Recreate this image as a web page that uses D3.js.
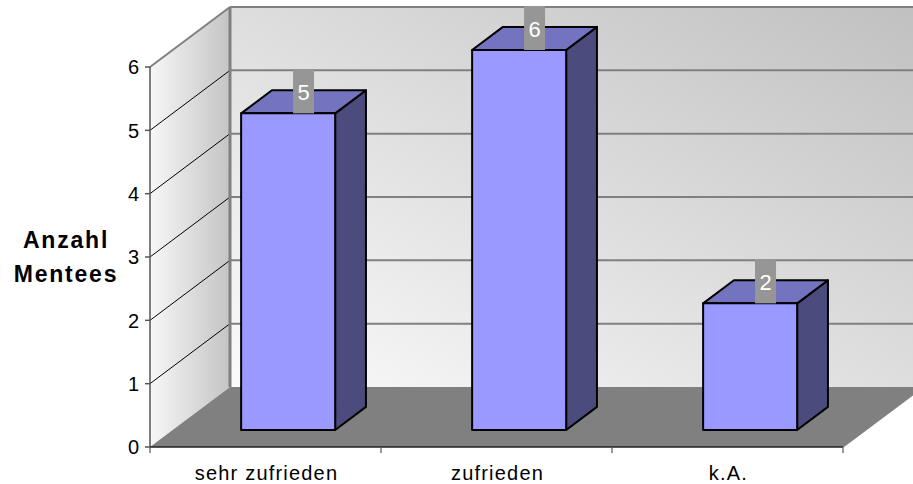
<!DOCTYPE html>
<html><head><meta charset="utf-8">
<script src="https://cdn.jsdelivr.net/npm/d3@7"></script>
<style>html,body{margin:0;padding:0;background:#fff;}svg{display:block;font-family:"Liberation Sans",Arial,sans-serif;}</style>
</head><body>
<svg id="chart" width="913" height="484"></svg>
<script>
const categories = ["sehr zufrieden", "zufrieden", "k.A."];
const values = [5, 6, 2];
const yTicks = [0, 1, 2, 3, 4, 5, 6];
const yTitle = ["Anzahl", "Mentees"];

const svg = d3.select("#chart");
const DX = 80, DY = -60;          // depth projection
const F0 = 0.283, F1 = 0.668;     // bar front/back depth fraction
const left = 150, right = 843;

const y = d3.scaleLinear().domain([0, 6]).range([447, 67]);
const x = d3.scaleBand().domain(categories).range([left, right]);
const barW = x.bandwidth() * 0.407;

const P = (px, py, f) => [px + f * DX, py + f * DY];
const pts = arr => arr.map(p => p.join(",")).join(" ");

const defs = svg.append("defs");
const g1 = defs.append("linearGradient").attr("id", "backG")
  .attr("x1", "0").attr("y1", "1").attr("x2", "1").attr("y2", "0");
g1.append("stop").attr("offset", "0").attr("stop-color", "#fbfbfb");
g1.append("stop").attr("offset", "1").attr("stop-color", "#c0c0c0");
const g2 = defs.append("linearGradient").attr("id", "leftG")
  .attr("x1", "0").attr("y1", "0").attr("x2", "1").attr("y2", "0");
g2.append("stop").attr("offset", "0").attr("stop-color", "#f7f7f7");
g2.append("stop").attr("offset", "1").attr("stop-color", "#c4c4c4");

const y0 = y(0), yTop = y(6);
// back wall
svg.append("polygon")
  .attr("points", pts([P(left, y0, 1), P(right, y0, 1), P(right, yTop, 1), P(left, yTop, 1)]))
  .attr("fill", "url(#backG)");
// left wall
svg.append("polygon")
  .attr("points", pts([[left, y0], P(left, y0, 1), P(left, yTop, 1), [left, yTop]]))
  .attr("fill", "url(#leftG)");

// back wall gridlines
svg.append("g").selectAll("line").data(yTicks.filter(d => d > 0)).join("line")
  .attr("x1", d => P(left, y(d), 1)[0]).attr("y1", d => P(left, y(d), 1)[1])
  .attr("x2", d => P(right, y(d), 1)[0]).attr("y2", d => P(right, y(d), 1)[1])
  .attr("stroke", "#808080").attr("stroke-width", 2);
// left wall gridlines
svg.append("g").selectAll("line").data(yTicks.filter(d => d > 0 && d < 6)).join("line")
  .attr("x1", left).attr("y1", d => y(d))
  .attr("x2", d => P(left, y(d), 1)[0]).attr("y2", d => P(left, y(d), 1)[1])
  .attr("stroke", "#000").attr("stroke-width", 1);
// left wall top edge and back corner
svg.append("line").attr("x1", left).attr("y1", yTop)
  .attr("x2", P(left, yTop, 1)[0]).attr("y2", P(left, yTop, 1)[1])
  .attr("stroke", "#808080").attr("stroke-width", 2);
svg.append("line").attr("x1", P(left, y0, 1)[0]).attr("y1", P(left, y0, 1)[1])
  .attr("x2", P(left, yTop, 1)[0]).attr("y2", P(left, yTop, 1)[1])
  .attr("stroke", "#808080").attr("stroke-width", 3);

// floor
svg.append("polygon")
  .attr("points", pts([[left, y0], [right, y0], P(right, y0, 1), P(left, y0, 1)]))
  .attr("fill", "#808080");
svg.append("line").attr("x1", right).attr("y1", y0)
  .attr("x2", P(right, y0, 1)[0]).attr("y2", P(right, y0, 1)[1])
  .attr("stroke", "#808080").attr("stroke-width", 1.5);

// y axis
svg.append("line").attr("x1", left).attr("y1", y0).attr("x2", left).attr("y2", yTop)
  .attr("stroke", "#555").attr("stroke-width", 1.5);
const yt = svg.append("g");
yt.selectAll("line").data(yTicks).join("line")
  .attr("x1", left - 5).attr("x2", left).attr("y1", d => y(d)).attr("y2", d => y(d))
  .attr("stroke", "#555").attr("stroke-width", 1.5);
yt.selectAll("text").data(yTicks).join("text")
  .attr("x", 139).attr("y", d => y(d)).attr("dy", "0.36em")
  .attr("text-anchor", "end").attr("font-size", 20).attr("fill", "#000")
  .text(d => d);

// x axis
svg.append("line").attr("x1", left).attr("x2", right).attr("y1", y0).attr("y2", y0)
  .attr("stroke", "#222").attr("stroke-width", 1.5);
const bounds = categories.map(c => x(c)).concat([right]);
svg.append("g").selectAll("line").data(bounds).join("line")
  .attr("x1", d => d).attr("x2", d => d).attr("y1", y0).attr("y2", y0 + 6)
  .attr("stroke", "#555").attr("stroke-width", 1.2);
svg.append("g").selectAll("text").data(categories).join("text")
  .attr("x", d => x(d) + x.bandwidth() / 2 + 1).attr("y", 480)
  .attr("text-anchor", "middle").attr("font-size", 20).attr("letter-spacing", "1.2px")
  .attr("fill", "#000").text(d => d);

// title
const tt = svg.append("text").attr("font-size", 23).attr("font-weight", "bold")
  .attr("letter-spacing", "1.8px").attr("text-anchor", "middle").attr("fill", "#000");
tt.selectAll("tspan").data(yTitle).join("tspan")
  .attr("x", 66).attr("y", (d, i) => 248 + i * 34).text(d => d);

// bars
const bars = svg.append("g").selectAll("g").data(categories.map((c, i) => ({ c, v: values[i] }))).join("g");
bars.each(function (d) {
  const g = d3.select(this);
  const xl = x(d.c) + (x.bandwidth() - barW) / 2, xr = xl + barW;
  const yb = y(0), yv = y(d.v);
  const fbl = P(xl, yb, F0), fbr = P(xr, yb, F0), ftl = P(xl, yv, F0), ftr = P(xr, yv, F0);
  const btl = P(xl, yv, F1), btr = P(xr, yv, F1), bbr = P(xr, yb, F1);
  g.append("polygon").attr("points", pts([ftr, btr, bbr, fbr]))
    .attr("fill", "#4b4b7e").attr("stroke", "#000").attr("stroke-width", 2).attr("stroke-linejoin", "round");
  g.append("polygon").attr("points", pts([ftl, btl, btr, ftr]))
    .attr("fill", "#7373bf").attr("stroke", "#000").attr("stroke-width", 2).attr("stroke-linejoin", "round");
  g.append("polygon").attr("points", pts([fbl, fbr, ftr, ftl]))
    .attr("fill", "#9999ff").attr("stroke", "#000").attr("stroke-width", 2).attr("stroke-linejoin", "round");
  // label
  const cx = (xl + xr) / 2 + (F0 + F1) / 2 * DX;
  const topY = ftl[1];
  g.append("rect").attr("x", cx - 10.5).attr("y", topY - 44).attr("width", 21).attr("height", 44)
    .attr("fill", "#969696");
  g.append("text").attr("x", cx).attr("y", topY - 21).attr("dy", "0.36em")
    .attr("text-anchor", "middle").attr("font-size", 22).attr("fill", "#fff").text(d.v);
});
</script>
</body></html>
